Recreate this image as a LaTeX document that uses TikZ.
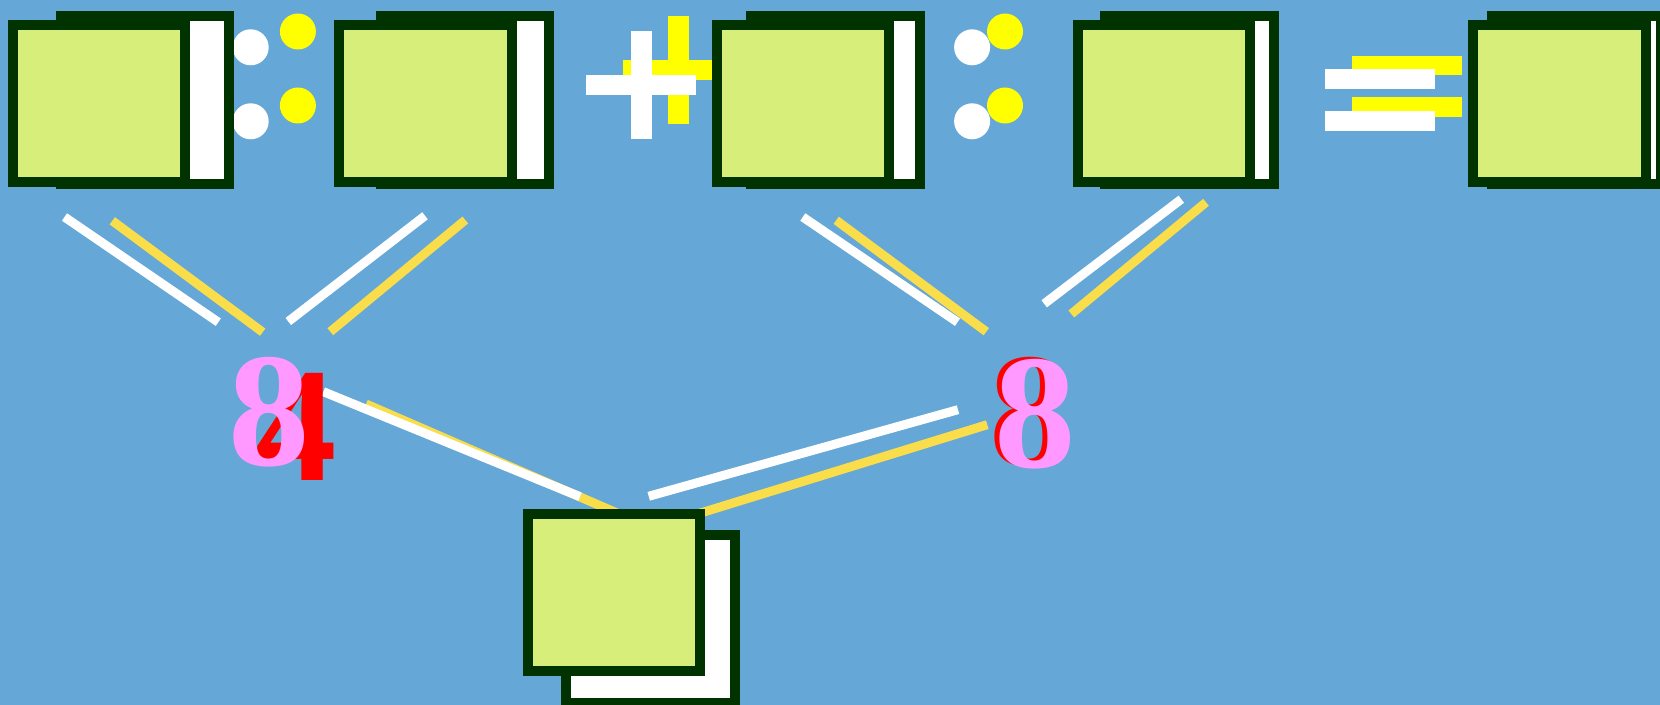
\documentclass[tikz,border=0pt]{standalone}
\usepackage{fontspec}
\setmainfont{Liberation Serif}
\usepackage{xcolor}

\definecolor{bgblue}{RGB}{101,167,214}
\definecolor{ltgreen}{RGB}{216,238,122}
\definecolor{dkgreen}{RGB}{0,51,0}
\definecolor{sunyellow}{RGB}{249,221,74}
\definecolor{brightyellow}{RGB}{255,255,0}
\definecolor{pinkish}{RGB}{255,153,255}

\begin{document}
\begin{tikzpicture}[
    x=0.5pt, y=-0.5pt,
    front/.style={rectangle, draw=dkgreen, line width=5pt, fill=ltgreen, minimum width=86.25pt, minimum height=78.65pt, inner sep=0pt},
    back/.style={rectangle, draw=dkgreen, line width=5pt, fill=white, minimum width=84.35pt, minimum height=83.85pt, inner sep=0pt},
    dotw/.style={circle, fill=white, minimum size=18pt, inner sep=0pt},
    doty/.style={circle, fill=brightyellow, minimum size=18pt, inner sep=0pt},
    wline/.style={draw=white, line width=4.5pt},
    yline/.style={draw=sunyellow, line width=4.5pt},
    digit/.style={font=\fontsize{81.4pt}{90pt}\selectfont\bfseries, inner sep=0pt, anchor=base}
]

    % Background
    \fill[bgblue] (0,0) rectangle (1660,705);
    \useasboundingbox (0,0) rectangle (1660,705);

    % Line ends
    \coordinate (w1a) at (64.5,217);    \coordinate (w1b) at (218.3,322.2);
    \coordinate (y1a) at (112.3,220.8); \coordinate (y1b) at (262.7,332.2);
    \coordinate (w2a) at (425,215.8);   \coordinate (w2b) at (288.3,321.5);
    \coordinate (y2a) at (465.3,220);   \coordinate (y2b) at (330.3,331.7);
    \coordinate (w3a) at (802.8,217);   \coordinate (w3b) at (957.5,322.2);
    \coordinate (y3a) at (836.2,220.3); \coordinate (y3b) at (986.3,331.7);
    \coordinate (w4a) at (1181.3,199.2); \coordinate (w4b) at (1044.2,303.8);
    \coordinate (y4a) at (1206,202.3);  \coordinate (y4b) at (1071.3,314);
    \coordinate (w5a) at (323.3,391.7); \coordinate (w5b) at (580,496.7);
    \coordinate (y5a) at (366,404);     \coordinate (y5b) at (640,523);
    \coordinate (w6a) at (958,409.7);   \coordinate (w6b) at (648.7,496.3);
    \coordinate (y6a) at (987.3,424.7); \coordinate (y6b) at (660,525.5);

    % Yellow lines under white ones
    \draw[yline] (y1a) -- (y1b);
    \draw[yline] (y2a) -- (y2b);
    \draw[yline] (y3a) -- (y3b);
    \draw[yline] (y4a) -- (y4b);
    \draw[yline] (y5a) -- (y5b);
    \draw[yline] (y6a) -- (y6b);
    \draw[wline] (w1a) -- (w1b);
    \draw[wline] (w2a) -- (w2b);
    \draw[wline] (w3a) -- (w3b);
    \draw[wline] (w4a) -- (w4b);
    \draw[wline] (w5a) -- (w5b);
    \draw[wline] (w6a) -- (w6b);

    % Plus and equals signs
    \fill[brightyellow] (668.2,15.7) rectangle (688.6,123.7);
    \fill[brightyellow] (623.2,60) rectangle (733.2,79.7);
    \fill[white] (631.1,30.7) rectangle (651.8,138.7);
    \fill[white] (586.4,75) rectangle (696.4,94.7);
    \fill[brightyellow] (1352,55.7) rectangle (1461.8,75.3);
    \fill[brightyellow] (1352,97.3) rectangle (1461.8,116.7);
    \fill[white] (1325.2,69.3) rectangle (1435,89);
    \fill[white] (1325.2,111) rectangle (1435,130.7);

    % Colons
    \node[dotw] (c1t) at (250.7,47.3) {};
    \node[dotw] (c1b) at (250.7,121.3) {};
    \node[doty] (c1ty) at (297.9,31.5) {};
    \node[doty] (c1by) at (297.9,105.5) {};
    \node[dotw] (c2t) at (972.1,47.3) {};
    \node[dotw] (c2b) at (972.1,121.3) {};
    \node[doty] (c2ty) at (1005,31.5) {};
    \node[doty] (c2by) at (1005,105.5) {};

    % Boxes
    \node[back] (b1s) at (144.85,99.85) {};
    \node[front] (b1) at (98.75,103.65) {};
    \node[back] (b2s) at (465,99.85) {};
    \node[front] (b2) at (425.35,103.65) {};
    \node[back] (b3s) at (835.7,99.85) {};
    \node[front] (b3) at (803.2,103.65) {};
    \node[back] (b4s) at (1189.55,99.85) {};
    \node[front] (b4) at (1164.1,103.65) {};
    \node[back] (b5s) at (1576.75,99.85) {};
    \node[front] (b5) at (1559.25,103.65) {};
    \node[back] (b6s) at (650.5,619.2) {};
    \node[front] (b6) at (613.85,592.35) {};

    % Numbers
    \node[digit, text=red] (n1r) at (296,480.7) {4};
    \node[digit, text=pinkish] (n1) at (268.9,466) {8};
    \node[digit, text=red] (n2r) at (1030,465.5) {8};
    \node[digit, text=pinkish] (n2) at (1035,468) {8};

\end{tikzpicture}
\end{document}
